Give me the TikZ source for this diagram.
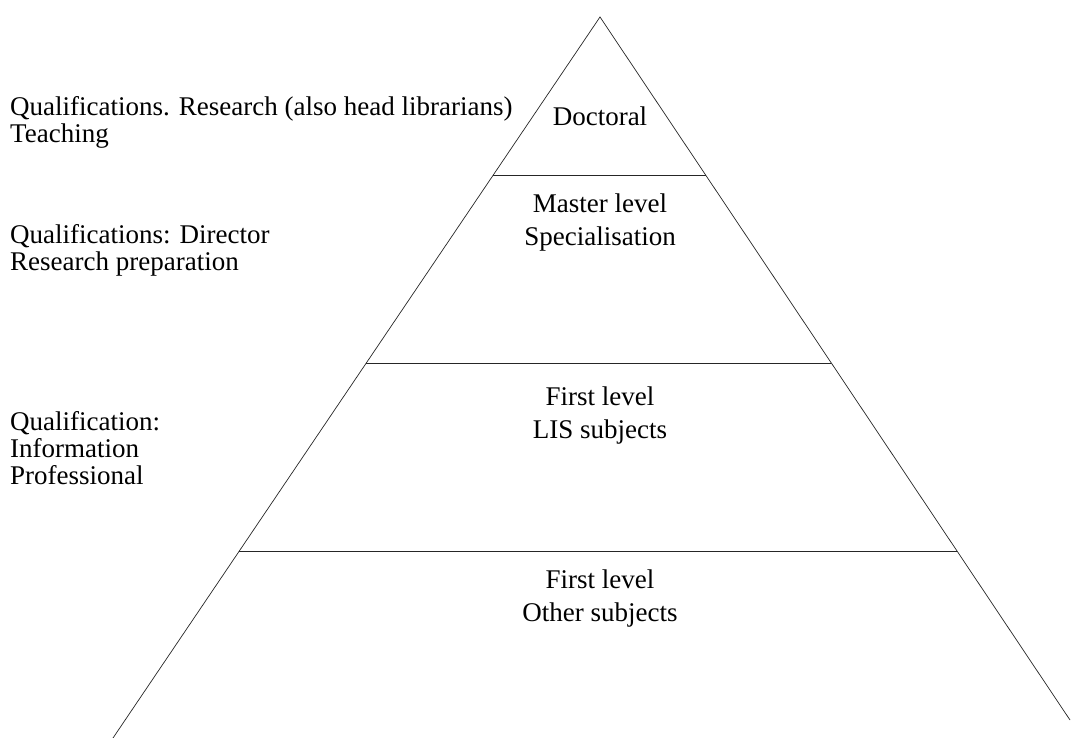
\documentclass[tikz,border=0pt]{standalone}
\usepackage{fontspec}
\setmainfont{Liberation Serif}
\begin{document}
\begin{tikzpicture}[x=1pt,y=-1pt,
  edge/.style={draw=black!85,line width=0.7pt},
  lefttext/.style={anchor=north west,inner sep=0pt,align=left,font=\fontsize{27}{27}\selectfont},
  midtext/.style={anchor=north,inner sep=0pt,align=center,font=\fontsize{27}{33}\selectfont}]
\useasboundingbox (0,0) rectangle (1072,738);
% pyramid corners
\coordinate (apex) at (600,17);
\coordinate (bl) at (113,738);
\coordinate (br) at (1070,720);
% tier boundaries
\coordinate (l1) at (493.3,175);
\coordinate (r1) at (705.6,175);
\coordinate (l2) at (366.3,363);
\coordinate (r2) at (831.3,363);
\coordinate (l3) at (239.3,551);
\coordinate (r3) at (957.0,551);
\draw[edge] (bl) -- (apex) -- (br);
\draw[edge] (l1) -- (r1);
\draw[edge] (l2) -- (r2);
\draw[edge] (l3) -- (r3);
% texts inside the pyramid
\node[midtext] (doc) at (600,106.6) {Doctoral};
\node[midtext] (mas) at (600,193.6) {Master level\\Specialisation};
\node[midtext] (lis) at (600,386.6) {First level\\LIS subjects};
\node[midtext] (oth) at (600,569.6) {First level\\Other subjects};
% texts on the left
\node[lefttext] (q1) at (10,96.6) {Qualifications. Research (also head librarians)\\Teaching};
\node[lefttext] (q2) at (10,224.6) {Qualifications: Director\\Research preparation};
\node[lefttext] (q3) at (10,411.6) {Qualification:\\Information\\Professional};
\end{tikzpicture}
\end{document}
